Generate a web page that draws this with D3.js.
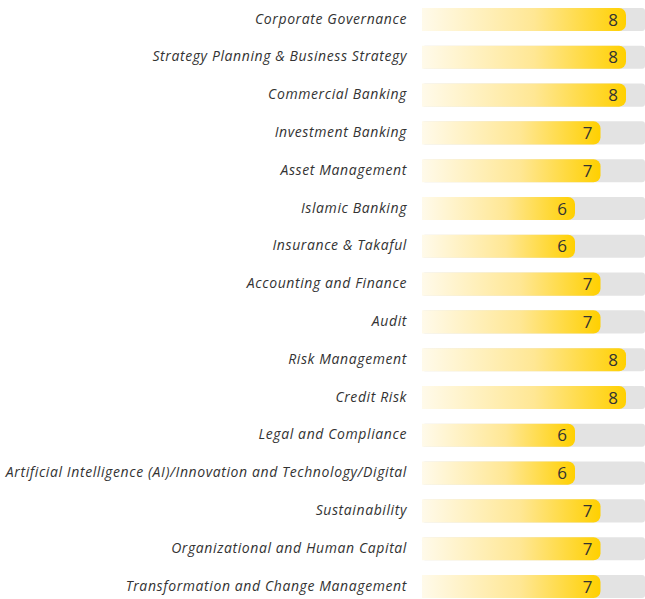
<!DOCTYPE html>
<html>
<head>
<meta charset="utf-8">
<script src="https://cdn.jsdelivr.net/npm/d3@7"></script>
<style>
  body { margin: 0; background: #fff; }
  svg { display: block; }
</style>
</head>
<body>
<div id="chart"></div>
<script>
// skills and their scores
var categories = [
  "Corporate Governance",
  "Strategy Planning & Business Strategy",
  "Commercial Banking",
  "Investment Banking",
  "Asset Management",
  "Islamic Banking",
  "Insurance & Takaful",
  "Accounting and Finance",
  "Audit",
  "Risk Management",
  "Credit Risk",
  "Legal and Compliance",
  "Artificial Intelligence (AI)/Innovation and Technology/Digital",
  "Sustainability",
  "Organizational and Human Capital",
  "Transformation and Change Management"
];
var scores = [8, 8, 8, 7, 7, 6, 6, 7, 7, 8, 8, 6, 6, 7, 7, 7];

var width = 645, height = 599;
var barLeft = 422, barRight = 645;

var svg = d3.select("#chart")
  .append("svg")
    .attr("width", width)
    .attr("height", height);

var data = categories.map(function(c, i) { return {name: c, value: scores[i]}; });

// scales
var yScale = d3.scaleBand()
  .domain(categories)
  .range([0.6, 605.4])
  .paddingInner(0.39)
  .paddingOuter(0.195);

var xScale = d3.scaleLinear()
  .domain([0, 8.745])
  .range([barLeft, barRight]);

// gradient, white-ish to gold along each bar
var defs = svg.append("defs");
var grad = defs.append("linearGradient")
  .attr("id", "barGrad")
  .attr("x1", "0%").attr("x2", "100%")
  .attr("y1", "0%").attr("y2", "0%");
grad.append("stop").attr("offset", "0%").attr("stop-color", "#fffaea");
grad.append("stop").attr("offset", "55%").attr("stop-color", "#ffe794");
grad.append("stop").attr("offset", "100%").attr("stop-color", "#ffd000");

var rows = svg.append("g")
  .selectAll("g")
  .data(data)
  .enter()
  .append("g")
    .attr("transform", function(d) { return "translate(0," + yScale(d.name) + ")"; });

var bh = yScale.bandwidth();

// gray tracks
rows.append("rect")
  .attr("x", xScale(0))
  .attr("y", 0)
  .attr("width", xScale.range()[1] - xScale(0))
  .attr("height", bh)
  .attr("rx", 3)
  .style("fill", "#e3e3e3");

// bars: square left, rounded right
function barPath(w, h, r) {
  return "M0,0H" + (w - r) +
    "A" + r + "," + r + " 0 0 1 " + w + "," + r +
    "V" + (h - r) +
    "A" + r + "," + r + " 0 0 1 " + (w - r) + "," + h +
    "H0Z";
}
rows.append("path")
  .attr("transform", "translate(" + xScale(0) + ",0)")
  .attr("d", function(d) { return barPath(xScale(d.value) - xScale(0), bh, 7); })
  .style("fill", "url(#barGrad)");

// values
rows.append("text")
  .attr("x", function(d) { return xScale(d.value) - 8; })
  .attr("y", bh / 2)
  .attr("dy", "0.36em")
  .attr("text-anchor", "end")
  .attr("font-family", "'Open Sans', sans-serif")
  .attr("font-size", "17px")
  .style("fill", "#333")
  .text(function(d) { return d.value; });

// labels
rows.append("text")
  .attr("x", 407)
  .attr("y", bh / 2)
  .attr("dy", "0.3em")
  .attr("text-anchor", "end")
  .attr("font-family", "'Open Sans', sans-serif")
  .attr("font-style", "italic")
  .attr("font-size", "14px")
  .attr("letter-spacing", "0.6px")
  .style("fill", "#333")
  .text(function(d) { return d.name; });
</script>
</body>
</html>
